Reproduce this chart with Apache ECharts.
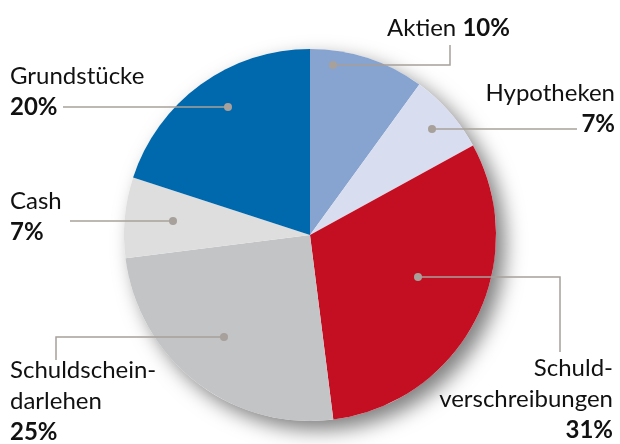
<!DOCTYPE html>
<html lang="de">
<head>
    <meta charset="UTF-8">
    <title>Portfolio</title>
    <script src="https://cdn.jsdelivr.net/npm/echarts@6/dist/echarts.min.js"></script>
    <style>
        html, body { margin: 0; padding: 0; background: #fff; }
        #chart { width: 620px; height: 444px; }
    </style>
</head>
<body>
<div id="chart"></div>
<script>
    // Daten
    var names = ['Aktien', 'Hypotheken', 'Schuldverschreibungen', 'Schuldscheindarlehen', 'Cash', 'Grundstücke'];
    var labelLines = [['Aktien'], ['Hypotheken'], ['Schuld-', 'verschreibungen'], ['Schuldschein-', 'darlehen'], ['Cash'], ['Grundstücke']];
    var values = [10, 7, 31, 25, 7, 20];
    var colors = ['#87a3cf', '#d8ddef', '#c40f22', '#c3c4c6', '#dedede', '#0068ad'];

    // Beschriftungs-Layout (Punkt, Knick, Textanker)
    var layout = [
        {dot: [333, 65], path: [[450, 65], [450, 45]], x: 387, y: 28, align: 'left', inline: true},
        {dot: [432, 129], path: [[577, 129]], x: 615, y: 93, align: 'right'},
        {dot: [418, 277], path: [[560, 277], [560, 352]], x: 613, y: 368, align: 'right'},
        {dot: [224, 337], path: [[56, 337], [56, 360]], x: 10, y: 370, align: 'left'},
        {dot: [173, 221], path: [[70, 221]], x: 10, y: 201, align: 'left'},
        {dot: [228, 107], path: [[63, 107]], x: 10, y: 76, align: 'left'}
    ];

    var FONT = 'Lato, "Open Sans", sans-serif';
    var LINE_H = 31;
    var leaderColor = '#a8a09a';

    var graphics = [];
    layout.forEach(function (l, i) {
        graphics.push({
            type: 'polyline', z: 10,
            shape: {points: [l.dot].concat(l.path)},
            style: {stroke: leaderColor, lineWidth: 1.5, fill: null}
        });
        graphics.push({
            type: 'circle', z: 11,
            shape: {cx: l.dot[0], cy: l.dot[1], r: 4},
            style: {fill: leaderColor}
        });
        var pct = values[i] + '%';
        if (l.inline) {
            graphics.push({
                type: 'text', z: 12, x: l.x, y: l.y,
                style: {
                    text: '{n|' + labelLines[i][0] + '} {p|' + pct + '}',
                    align: l.align, verticalAlign: 'middle',
                    rich: {
                        n: {font: '24px ' + FONT, fill: '#111'},
                        p: {font: 'bold 24px ' + FONT, fill: '#111'}
                    },
                    font: '24px ' + FONT
                }
            });
            return;
        }
        var rows = labelLines[i].concat([pct]);
        rows.forEach(function (t, k) {
            var bold = k === rows.length - 1;
            graphics.push({
                type: 'text', z: 12, x: l.x, y: l.y + k * LINE_H,
                style: {
                    text: t, fill: '#111',
                    font: (bold ? 'bold ' : '') + '24px ' + FONT,
                    align: l.align, verticalAlign: 'middle'
                }
            });
        });
    });

    var chart = echarts.init(document.getElementById('chart'));
    chart.setOption({
        animation: false,
        series: [
            {
                // Schatten
                type: 'pie', z: 1, silent: true,
                center: [310, 235], radius: 186,
                label: {show: false}, labelLine: {show: false},
                itemStyle: {
                    color: '#fff', shadowBlur: 20, shadowOffsetX: 9, shadowOffsetY: 9,
                    shadowColor: 'rgba(0,0,0,0.5)'
                },
                data: [{value: 1, name: 'shadow'}]
            },
            {
                type: 'pie', z: 2,
                center: [310, 235], radius: 186,
                startAngle: 90, clockwise: true,
                label: {show: false}, labelLine: {show: false},
                itemStyle: {borderWidth: 0},
                data: names.map(function (n, i) {
                    return {name: n, value: values[i], itemStyle: {color: colors[i]}};
                })
            }
        ],
        graphic: graphics
    });
</script>
</body>
</html>
